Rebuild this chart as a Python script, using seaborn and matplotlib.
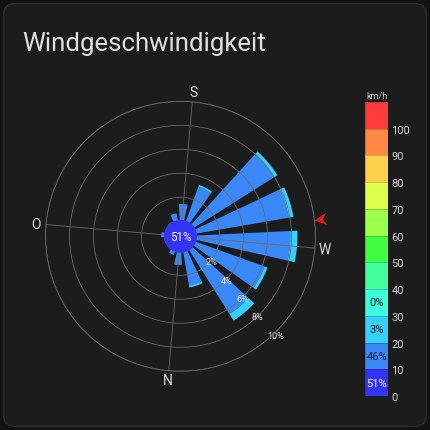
import numpy as np
import matplotlib
matplotlib.use("Agg")
import matplotlib.pyplot as plt
import seaborn as sns
from matplotlib.colors import ListedColormap
from matplotlib.patches import FancyBboxPatch, Circle
from matplotlib.markers import MarkerStyle
from matplotlib.path import Path
from matplotlib.transforms import Affine2D

# wind directions (compass sectors of 22.5 degrees)
directions = ["N", "NNE", "NE", "ENE", "E", "ESE", "SE", "SSE",
              "S", "SSW", "SW", "WSW", "W", "WNW", "NW", "NNW"]

# share of all readings in % per direction and speed class
speed_10_20 = [1.15, 0.4, 0.1, 0.1, 0.35, 0.1, 0.15, 0.7,
               1.45, 3.15, 7.95, 7.9, 7.9, 6.2, 6.4, 2.9]
speed_20_30 = [0, 0, 0, 0, 0, 0, 0, 0,
               0, 0.15, 0.35, 0.4, 0.6, 0.25, 0.65, 0.17]
calm_label = "51%"          # 0-10 km/h, shown as the middle disc
current_direction = 258     # degrees, red marker on the rim

# legend: speed classes from bottom to top
speed_ticks = [0, 10, 20, 30, 40, 50, 60, 70, 80, 90, 100]
class_share = ["51%", "46%", "3%", "0%", "", "", "", "", "", "", ""]
class_colors = ["#3434f5", "#3a88f7", "#35d0fb", "#3cffdc", "#40ff9c",
                "#40ff40", "#9cff4c", "#ddff4c", "#ffd04c", "#ff8844", "#ff3c3c"]
compass_labels = ["N", "O", "S", "W"]
ring_ticks = [2, 4, 6, 8, 10]

sns.set_theme(style="dark")
plt.rcParams["font.family"] = ["Roboto", "DejaVu Sans"]

bg = "#1c1c1c"
grid_col = "#6a6a6a"
txt = "#dcdcdc"

fig = plt.figure(figsize=(4.31, 4.31), dpi=100)
fig.patch.set_facecolor("#111111")
card = FancyBboxPatch((3.5 / 431, 3.5 / 431), 423 / 431, 423 / 431,
                      boxstyle="round,pad=0,rounding_size=0.028",
                      transform=fig.transFigure, facecolor=bg,
                      edgecolor="#2e2e2e", lw=1, zorder=-5)
fig.patches.append(card)

fig.text(22 / 431, 1 - 51 / 431, "Windgeschwindigkeit", fontsize=18.5,
         color="#e1e1e1", ha="left", va="baseline")

# wind rose
ax = fig.add_axes([45.5 / 431, 58.7 / 431, 270 / 431, 270 / 431], projection="polar")
ax.set_facecolor("none")
ax.set_axisbelow("line")
ax.set_theta_zero_location("S", offset=-5)
ax.set_theta_direction(-1)

theta = np.deg2rad(np.arange(len(directions)) * 22.5)
width = np.deg2rad(22.5 * 0.69)
ax.bar(theta, speed_10_20, width=width, bottom=0, color=class_colors[1], lw=0)
ax.bar(theta, speed_20_30, width=width, bottom=speed_10_20, color=class_colors[2], lw=0)

ax.set_ylim(0, 10)
ax.set_rorigin(-1.25)
ax.set_xticks(np.deg2rad([0, 90, 180, 270]))
ax.set_xticklabels(compass_labels)
ax.set_yticks(ring_ticks)
ax.set_yticklabels([f"{v}%" for v in ring_ticks])
ax.set_rlabel_position(315)
ax.tick_params(axis="x", pad=-6, labelsize=10, colors=txt)
ax.tick_params(axis="y", labelsize=6.5, colors="#e6e6e6")
ax.grid(True, color=grid_col, lw=0.6)
ax.spines["polar"].set_color(grid_col)
ax.spines["polar"].set_linewidth(0.6)
ax.spines["inner"].set_visible(False)

# calm disc in the middle
ax.add_patch(Circle((0.5, 0.5), 16.5 / 270, transform=ax.transAxes,
                    facecolor=class_colors[0], lw=0, zorder=5, clip_on=False))
ax.text(0.5, 0.5, calm_label, transform=ax.transAxes, ha="center", va="center",
        fontsize=8.3, color="#f2f2f2", zorder=6)

# current direction marker
screen_angle = np.rad2deg(ax.get_theta_offset()) - current_direction
arrow = Path([(0, 0), (1, 0.5), (0.65, 0), (1, -0.5), (0, 0)],
             [Path.MOVETO, Path.LINETO, Path.LINETO, Path.LINETO, Path.CLOSEPOLY])
ax.plot(np.deg2rad(current_direction), 10,
        marker=MarkerStyle(arrow, transform=Affine2D().rotate_deg(screen_angle)),
        ms=18, color="#f01818", mec="none", clip_on=False, zorder=7)

# legend as a one-column heatmap
cax = fig.add_axes([365.5 / 431, 34 / 431, 23 / 431, 294 / 431])
idx = np.arange(len(class_colors))[::-1].reshape(-1, 1)
annot = np.array(class_share)[::-1].reshape(-1, 1)
sns.heatmap(idx, ax=cax, cmap=ListedColormap(class_colors), vmin=-0.5, vmax=10.5,
            cbar=False, annot=annot, fmt="", annot_kws={"fontsize": 8},
            linewidths=0.6, linecolor="#00000030",
            xticklabels=False, yticklabels=False)
for t in cax.texts:
    t.set_color("#f2f2f2" if t.get_text() == class_share[0] else "#1c1c1c")
cax.set_yticks(len(speed_ticks) - np.arange(len(speed_ticks)))
cax.set_yticklabels([str(v) for v in speed_ticks], rotation=0)
cax.yaxis.tick_right()
cax.tick_params(axis="y", length=0, pad=2, labelsize=8, colors="#d0d0d0")
cax.set_title("km/h", fontsize=6.5, color="#d0d0d0", pad=3)

fig.savefig("out.png", dpi=100, facecolor=fig.get_facecolor())
